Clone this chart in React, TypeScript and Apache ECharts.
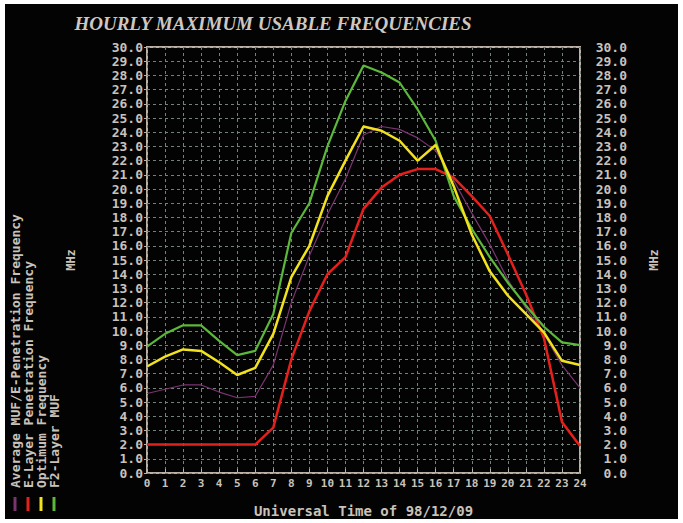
import React, { useEffect, useRef } from "react";
import * as echarts from "echarts";

const hours = [0, 1, 2, 3, 4, 5, 6, 7, 8, 9, 10, 11, 12, 13, 14, 15, 16, 17, 18, 19, 20, 21, 22, 23, 24];
const avgMufEPen = [5.6, 5.9, 6.2, 6.2, 5.7, 5.3, 5.4, 7.6, 12.0, 15.3, 18.2, 20.7, 23.8, 24.4, 24.2, 23.6, 22.7, 20.6, 18.3, 16.1, 13.6, 11.6, 9.8, 7.6, 6.0];
const eLayerPen = [2.0, 2.0, 2.0, 2.0, 2.0, 2.0, 2.0, 3.2, 8.0, 11.4, 14.0, 15.2, 18.6, 20.1, 21.0, 21.4, 21.4, 20.8, 19.5, 18.1, 15.4, 12.6, 9.5, 3.6, 1.9];
const optimumFreq = [7.5, 8.2, 8.7, 8.6, 7.8, 6.9, 7.4, 9.8, 13.8, 16.0, 19.5, 22.0, 24.4, 24.1, 23.4, 22.0, 23.1, 20.2, 16.8, 14.2, 12.5, 11.2, 9.9, 7.9, 7.6];
const f2LayerMuf = [8.9, 9.8, 10.4, 10.4, 9.3, 8.3, 8.6, 11.2, 16.9, 19.0, 23.0, 26.2, 28.7, 28.2, 27.5, 25.6, 23.4, 19.5, 17.2, 15.2, 13.4, 11.8, 10.3, 9.2, 9.0];

const seriesNames = [
  "Average MUF/E-Penetration Frequency",
  "E-Layer Penetration Frequency",
  "Optimum Frequency",
  "F2-Layer MUF",
];
const seriesColors = ["#7a3470", "#e4201c", "#f2e21e", "#5cb83a"];
const titleText = "HOURLY MAXIMUM USABLE FREQUENCIES";
const xAxisTitle = "Universal Time of 98/12/09";
const yAxisTitle = "MHz";

const TXT = "#c9c2ba";
const MONO = "'DejaVu Sans Mono', 'Liberation Mono', monospace";

export default function App() {
  const ref = useRef<HTMLDivElement>(null);
  useEffect(() => {
    if (!ref.current) return;
    const chart = echarts.init(ref.current, null, { renderer: "svg" });
    const toPairs = (vals: number[]) => hours.map((h, i) => [h, vals[i]]);
    const allSeries = [avgMufEPen, eLayerPen, f2LayerMuf, optimumFreq];
    const colorIdx = [0, 1, 3, 2];
    const widths = [1.2, 2.5, 2.2, 2.5];
    const gridLine = { show: true, lineStyle: { color: "#71827a", type: [3, 3] as any, width: 1 } };
    const yLabel = (margin: number) => ({
      color: TXT,
      fontFamily: MONO,
      fontWeight: "bold" as const,
      fontSize: 13,
      align: "right" as const,
      margin,
      formatter: (v: number) => v.toFixed(1),
    });
    const legendGraphics: any[] = [];
    const legendX = [15, 28, 41, 54];
    seriesNames.forEach((name, i) => {
      legendGraphics.push({
        type: "text",
        x: legendX[i],
        y: 488,
        rotation: Math.PI / 2,
        style: {
          text: name,
          fill: TXT,
          font: `bold 13px ${MONO}`,
          textAlign: "left",
          textVerticalAlign: "middle",
        },
      });
      legendGraphics.push({
        type: "line",
        shape: { x1: legendX[i], y1: 497, x2: legendX[i], y2: 511 },
        style: { stroke: seriesColors[i], lineWidth: 3 },
      });
    });
    chart.setOption({
      animation: false,
      backgroundColor: "#ffffff",
      graphic: [
        {
          type: "rect",
          z: -10,
          shape: { x: 5, y: 4, width: 673, height: 515 },
          style: { fill: "#030303" },
        },
        {
          type: "text",
          x: 273,
          y: 23,
          style: {
            text: titleText,
            fill: "#cfc8c0",
            font: "italic bold 19px 'Liberation Serif', 'DejaVu Serif', serif",
            textAlign: "center",
            textVerticalAlign: "middle",
          },
        },
        ...legendGraphics,
      ],
      grid: {
        left: 147,
        right: 103,
        top: 47,
        bottom: 41,
        show: true,
        borderColor: "#bbb1a6",
        borderWidth: 2,
        backgroundColor: "transparent",
      },
      xAxis: {
        type: "value",
        min: 0,
        max: 24,
        interval: 1,
        name: xAxisTitle,
        nameLocation: "middle",
        nameGap: 31,
        nameTextStyle: { color: TXT, fontFamily: MONO, fontWeight: "bold", fontSize: 14 },
        axisLine: { show: false },
        axisTick: { show: true, inside: true, length: 4, lineStyle: { color: "#bbb1a6" } },
        axisLabel: { color: TXT, fontFamily: MONO, fontWeight: "bold", fontSize: 11, margin: 5 },
        splitLine: gridLine,
      },
      yAxis: [
        {
          type: "value",
          min: 0,
          max: 30,
          interval: 1,
          position: "left",
          name: yAxisTitle,
          nameLocation: "middle",
          nameRotate: 90,
          nameGap: 70,
          nameTextStyle: { color: TXT, fontFamily: MONO, fontWeight: "bold", fontSize: 12 },
          axisLine: { show: false },
          axisTick: { show: true, length: 3, lineStyle: { color: "#bbb1a6" } },
          axisLabel: yLabel(4),
          splitLine: gridLine,
        },
        {
          type: "value",
          min: 0,
          max: 30,
          interval: 1,
          position: "right",
          name: yAxisTitle,
          nameLocation: "middle",
          nameRotate: 90,
          nameGap: 68,
          nameTextStyle: { color: TXT, fontFamily: MONO, fontWeight: "bold", fontSize: 12 },
          axisLine: { show: false },
          axisTick: { show: false },
          axisLabel: yLabel(47),
          splitLine: { show: false },
        },
      ],
      series: allSeries.map((vals, k) => ({
        type: "line",
        name: seriesNames[colorIdx[k]],
        data: toPairs(vals),
        symbol: "none",
        smooth: false,
        lineStyle: { color: seriesColors[colorIdx[k]], width: widths[k] },
        z: 2 + k,
      })),
    });
    return () => chart.dispose();
  }, []);
  return (
    <div
      ref={ref}
      style={{ position: "fixed", left: 0, top: 0, width: 683, height: 523 }}
    />
  );
}
